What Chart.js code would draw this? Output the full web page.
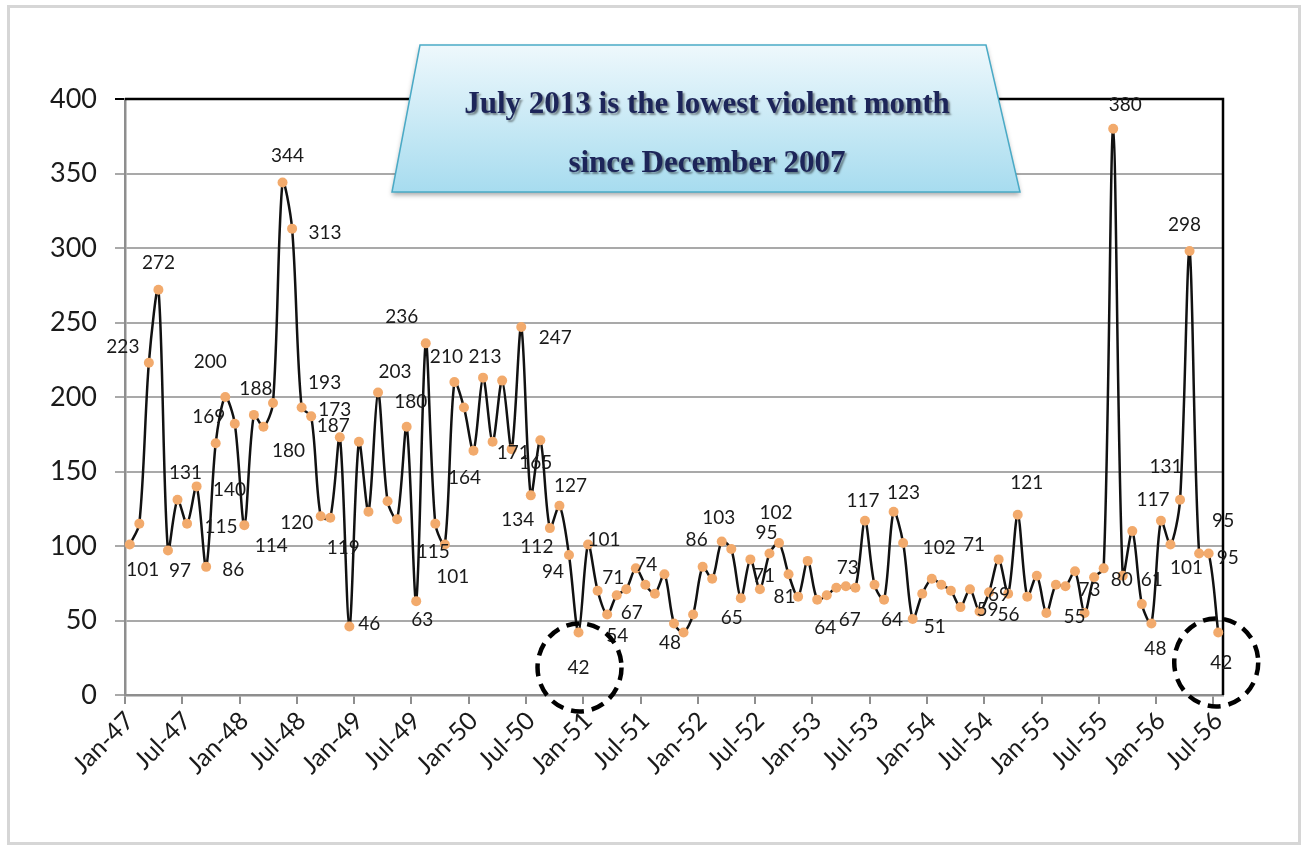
<!DOCTYPE html>
<html>
<head>
<meta charset="utf-8">
<title>Monthly violent incidents</title>
<script src="https://cdn.jsdelivr.net/npm/chart.js@4.4.1/dist/chart.umd.min.js"></script>
<style>
  html, body { margin: 0; padding: 0; background: #fff; }
  #frame { position: absolute; left: 7px; top: 5px; width: 1288px; height: 834px; border: 3px solid #d6d6d6; }
  #wrap { position: absolute; left: 0; top: 0; width: 1306px; height: 847px; }
</style>
</head>
<body>
<div id="frame"></div>
<div id="wrap"><canvas id="incidentChart"></canvas></div>
<script>
// monthly counts, one array per year (Jan..Dec)
const monthNames = ['Jan', 'Feb', 'Mar', 'Apr', 'May', 'Jun', 'Jul', 'Aug', 'Sep', 'Oct', 'Nov', 'Dec'];
const firstYear = 47;

const counts47 = [101, 115, 223, 272, 97, 131, 115, 140, 86, 169, 200, 182];
const counts48 = [114, 188, 180, 196, 344, 313, 193, 187, 120, 119, 173, 46];
const counts49 = [170, 123, 203, 130, 118, 180, 63, 236, 115, 101, 210, 193];
const counts50 = [164, 213, 170, 211, 165, 247, 134, 171, 112, 127, 94, 42];
const counts51 = [101, 70, 54, 67, 71, 85, 74, 68, 81, 48, 42, 54];
const counts52 = [86, 78, 103, 98, 65, 91, 71, 95, 102, 81, 66, 90];
const counts53 = [64, 67, 72, 73, 72, 117, 74, 64, 123, 102, 51, 68];
const counts54 = [78, 74, 70, 59, 71, 56, 69, 91, 68, 121, 66, 80];
const counts55 = [55, 74, 73, 83, 55, 79, 85, 380, 80, 110, 61, 48];
const counts56 = [117, 101, 131, 298, 95, 95, 42];

const monthlyCounts = [].concat(counts47, counts48, counts49, counts50, counts51,
  counts52, counts53, counts54, counts55, counts56);

const monthLabels = monthlyCounts.map((_, i) =>
  monthNames[i % 12] + '-' + (firstYear + Math.floor(i / 12)));

// which points get a value label, and where it sits relative to the point (px)
const labelOffsets = {
  0: [13, 25], 2: [-26, -16], 3: [0, -27], 4: [12, 20], 5: [8, -27], 6: [34, 3], 7: [33, 3],
  8: [27, 3], 9: [-7, -26], 10: [-15, -35], 12: [27, 21], 13: [2, -26], 14: [25, 24],
  16: [5, -27], 17: [33, 4], 18: [23, -25], 19: [22, 10], 20: [-24, 7], 21: [13, 30],
  22: [-5, -27], 23: [20, -3], 26: [17, -21], 29: [4, -25], 30: [6, 19], 31: [-24, -26],
  32: [-2, 28], 33: [8, 32], 34: [-8, -25], 36: [-9, 27], 37: [2, -21], 40: [24, 14],
  41: [34, 11], 42: [-13, 25], 43: [-27, 13], 44: [-13, 19], 45: [11, -20], 46: [-16, 17],
  47: [0, 35], 48: [16, -5], 50: [10, 21], 51: [15, 18], 52: [-13, -11], 54: [1, -20],
  57: [-4, 19], 60: [-6, -27], 62: [-3, -24], 64: [-9, 20], 66: [4, -13], 67: [-3, -21],
  68: [-3, -30], 69: [-4, 23], 72: [8, 28], 73: [23, 25], 75: [2, -18], 77: [-2, -20],
  79: [8, 20], 80: [10, -19], 81: [36, 5], 82: [22, 8], 87: [27, 3], 88: [4, -44],
  89: [29, 3], 90: [10, 3], 93: [9, -32], 98: [24, 4], 100: [-10, 4], 103: [12, -24],
  104: [-1, 4], 106: [10, -24], 107: [4, 25], 108: [-8, -21], 109: [16, 23],
  110: [-14, -33], 111: [-5, -26], 112: [24, -33], 113: [19, 4], 114: [3, 30]
};

// dashed rings around the two lowest months
const ringedMonths = [
  { index: 47, dx: 1, dy: 35 },
  { index: 114, dx: -2, dy: 30 }
];

const pointLabels = {
  id: 'pointLabels',
  afterDatasetsDraw(chart) {
    const ctx = chart.ctx;
    const meta = chart.getDatasetMeta(0);
    ctx.save();
    ctx.font = '19px Lato, "Open Sans", sans-serif';
    ctx.fillStyle = '#1a1a1a';
    ctx.textAlign = 'center';
    ctx.textBaseline = 'middle';
    Object.keys(labelOffsets).forEach(k => {
      const i = +k;
      const pt = meta.data[i];
      const [dx, dy] = labelOffsets[k];
      ctx.fillText(String(monthlyCounts[i]), pt.x + dx, pt.y + dy);
    });
    ctx.restore();
  }
};

const lowRings = {
  id: 'lowRings',
  afterDatasetsDraw(chart) {
    const ctx = chart.ctx;
    const meta = chart.getDatasetMeta(0);
    ctx.save();
    ctx.strokeStyle = '#000';
    ctx.lineWidth = 4.5;
    ctx.setLineDash([13, 8]);
    ringedMonths.forEach(r => {
      const pt = meta.data[r.index];
      ctx.beginPath();
      ctx.ellipse(pt.x + r.dx, pt.y + r.dy, 42, 44, 0, 0, Math.PI * 2);
      ctx.stroke();
    });
    ctx.restore();
  }
};

const plotFrame = {
  id: 'plotFrame',
  beforeDatasetsDraw(chart) {
    const { ctx, chartArea } = chart;
    ctx.save();
    ctx.strokeStyle = '#000';
    ctx.lineWidth = 2.5;
    ctx.beginPath();
    ctx.moveTo(chartArea.left, chartArea.top);
    ctx.lineTo(chartArea.right, chartArea.top);
    ctx.lineTo(chartArea.right, chartArea.bottom);
    ctx.stroke();
    ctx.restore();
  }
};

const titleBox = {
  id: 'titleBox',
  afterDraw(chart) {
    const ctx = chart.ctx;
    ctx.save();
    ctx.beginPath();
    ctx.moveTo(420, 45);
    ctx.lineTo(986, 45);
    ctx.lineTo(1020, 192);
    ctx.lineTo(392, 192);
    ctx.closePath();
    const grad = ctx.createLinearGradient(0, 45, 0, 192);
    grad.addColorStop(0, '#eef8fc');
    grad.addColorStop(1, '#a7dcef');
    ctx.shadowColor = 'rgba(0,0,0,0.35)';
    ctx.shadowOffsetY = 3;
    ctx.shadowBlur = 5;
    ctx.fillStyle = grad;
    ctx.fill();
    ctx.shadowColor = 'transparent';
    ctx.strokeStyle = '#4aaac6';
    ctx.lineWidth = 1.5;
    ctx.stroke();

    ctx.font = 'bold 31px "Liberation Serif", "DejaVu Serif", serif';
    ctx.textAlign = 'center';
    ctx.textBaseline = 'alphabetic';
    ctx.shadowColor = 'rgba(0,0,0,0.45)';
    ctx.shadowOffsetX = 2;
    ctx.shadowOffsetY = 2;
    ctx.shadowBlur = 2;
    ctx.fillStyle = '#1d2559';
    ctx.fillText('July 2013 is the lowest violent month', 707, 113);
    ctx.fillText('since December 2007', 707, 172);
    ctx.restore();
  }
};

new Chart(document.getElementById('incidentChart'), {
  type: 'line',
  data: {
    labels: monthLabels,
    datasets: [{
      data: monthlyCounts,
      borderColor: '#111',
      borderWidth: 2.5,
      tension: 0.3,
      pointRadius: 5,
      pointBorderWidth: 0,
      pointBackgroundColor: '#f2aa6c'
    }]
  },
  options: {
    responsive: true,
    maintainAspectRatio: false,
    animation: false,
    layout: { padding: { top: 99, right: 83, left: 0, bottom: 0 } },
    plugins: { legend: { display: false }, tooltip: { enabled: false } },
    scales: {
      x: {
        offset: true,
        afterFit(scale) { scale.height = 152; },
        border: { color: '#8e8e8e', width: 2.5 },
        grid: {
          offset: true,
          drawOnChartArea: false,
          tickLength: 9,
          lineWidth: 2,
          color: c => (c.index % 6 === 0 ? '#8e8e8e' : 'transparent')
        },
        ticks: {
          autoSkip: false,
          minRotation: 45,
          maxRotation: 45,
          padding: 2,
          color: '#1a1a1a',
          font: { family: 'Lato, "Open Sans", sans-serif', size: 25 },
          callback: (v, i) => (i % 6 === 0 ? monthLabels[i] : '')
        }
      },
      y: {
        min: 0,
        max: 400,
        afterFit(scale) { scale.width = 125; },
        border: { color: '#8e8e8e', width: 2.5 },
        grid: {
          tickLength: 10,
          lineWidth: 2,
          color: c => (c.tick && c.tick.value === 400 ? '#000' : '#a9a9a9')
        },
        ticks: {
          stepSize: 50,
          padding: 18,
          color: '#1a1a1a',
          font: { family: 'Lato, "Open Sans", sans-serif', size: 27 }
        }
      }
    }
  },
  plugins: [plotFrame, pointLabels, lowRings, titleBox]
});
</script>
</body>
</html>
